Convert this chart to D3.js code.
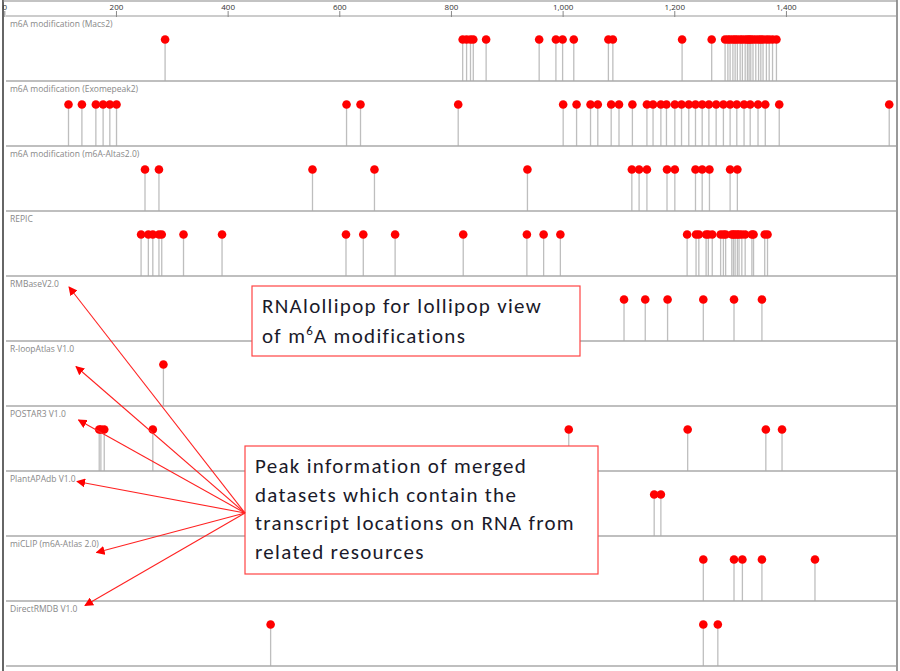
<!DOCTYPE html>
<html><head><meta charset="utf-8">
<script src="https://cdn.jsdelivr.net/npm/d3@7"></script>
<style>
html,body{margin:0;padding:0;background:#fff;}
svg{display:block;}
</style></head>
<body>
<svg id="chart" width="900" height="671"></svg>
<script>
// ---- DATA ----
const trackNames = [
  "m6A modification (Macs2)",
  "m6A modification (Exomepeak2)",
  "m6A modification (m6A-Altas2.0)",
  "REPIC",
  "RMBaseV2.0",
  "R-loopAtlas V1.0",
  "POSTAR3 V1.0",
  "PlantAPAdb V1.0",
  "miCLIP (m6A-Atlas 2.0)",
  "DirectRMDB V1.0"
];
const macs2 = [288,821,828,835,840,863,958,988,1000,1020,1082,1090,1214,1267,
  1291,1296,1300,1305,1309,1313,1318,1322,1327,1331,1334,1337,1341,1346,1351,1355,1359,1365,1370,1376,1383];
const exomepeak2 = [115,139,164,177,189,201,613,638,813,1001,1025,1050,1063,1087,1101,1125,1151,1162,1176,1186,
  1201,1213,1226,1238,1250,1262,1275,1288,1300,1312,1325,1336,1350,1363,1388,1585];
const atlas2 = [252,277,552,663,937,1124,1137,1151,1187,1201,1238,1250,1263,1300,1313];
const repic = [245,258,266,277,282,321,390,612,643,700,822,936,966,996,
  1223,1239,1244,1257,1261,1268,1283,1288,1292,1303,1306,1309,1313,1316,1321,1327,1339,1342,1362,1367];
const rmbase = [1110,1148,1188,1252,1307,1357];
const rloop = [285];
const postar3 = [170,173,179,266,1011,1224,1364,1393];
const plantapa = [1164,1176];
const miclip = [1252,1307,1322,1357,1452];
const directrmdb = [477,1252,1278];
const trackValues = [macs2, exomepeak2, atlas2, repic, rmbase, rloop, postar3, plantapa, miclip, directrmdb];
const tickValues = [0,200,400,600,800,1000,1200,1400];
const xDomain = [0,1600];

const note1Lines = ["RNAlollipop for lollipop view", "of m\u2076A modifications"];
const note2Lines = ["Peak information of merged", "datasets which contain the", "transcript locations on RNA from", "related resources"];

// ---- DRAW ----
const svg = d3.select("#chart");
const x = d3.scaleLinear().domain(xDomain).range([4.3, 897.6]);
const y = d3.scaleBand().domain(trackNames).range([16, 666]).padding(0);
const th = y.bandwidth();

// frame
svg.append("line").attr("x1",3).attr("x2",3).attr("y1",0).attr("y2",671).attr("stroke","#666").attr("stroke-width",2);
svg.append("line").attr("x1",897).attr("x2",897).attr("y1",0).attr("y2",671).attr("stroke","#777").attr("stroke-width",1.5);
svg.append("line").attr("x1",3).attr("x2",897).attr("y1",1).attr("y2",1).attr("stroke","#888").attr("stroke-width",1.2);

// top axis
const axis = svg.append("g").attr("transform","translate(0,16)")
  .call(d3.axisTop(x).tickValues(tickValues).tickSize(4).tickSizeOuter(0).tickFormat(d3.format(",")));
axis.select(".domain").attr("stroke","#999").attr("d","M6,0H896");
axis.selectAll(".tick line").attr("stroke","#888").attr("y2",-5).attr("y1",1);
axis.selectAll(".tick text").attr("font-family","Open Sans, sans-serif").attr("font-size",8).attr("fill","#333").attr("dy","0.1em");

// tracks
const g = svg.append("g");
trackNames.forEach((name,i)=>{
  const top = y(name);
  const base = top + th;
  const tg = g.append("g");
  tg.selectAll("line.stem").data(trackValues[i]).join("line")
    .attr("x1",d=>x(d)).attr("x2",d=>x(d))
    .attr("y1",top+23.5).attr("y2",base)
    .attr("stroke","#888").attr("stroke-opacity",0.55).attr("stroke-width",1.3);
  tg.selectAll("circle").data(trackValues[i]).join("circle")
    .attr("cx",d=>x(d)).attr("cy",top+23.5).attr("r",4.3).attr("fill","#ff0000");
  tg.append("line").attr("x1",6).attr("x2",896).attr("y1",base).attr("y2",base)
    .attr("stroke","#aaa").attr("stroke-width",1.5);
  tg.append("text").attr("x",10).attr("y",top+10.5).text(name)
    .attr("font-family","Open Sans, sans-serif").attr("font-size",8.5).attr("fill","#888");
});

// annotations
function noteBox(x0,y0,x1,y1,lines,tx,ty,lh){
  svg.append("rect").attr("x",x0).attr("y",y0).attr("width",x1-x0).attr("height",y1-y0)
    .attr("fill","#fff").attr("stroke","#f44").attr("stroke-width",1.2);
  const t = svg.append("text").attr("font-family","Carlito, Lato, sans-serif").attr("font-size",21)
    .attr("letter-spacing",1.3).attr("fill","#1a1a2a");
  lines.forEach((l,k)=>{
    if(l.includes("\u2076")){
      const parts = l.split("\u2076");
      t.append("tspan").attr("x",tx).attr("y",ty+k*lh).text(parts[0]);
      t.append("tspan").attr("dy",-8).attr("font-size",13).text("6");
      t.append("tspan").attr("dy",8).text(parts[1]);
    } else {
      t.append("tspan").attr("x",tx).attr("y",ty+k*lh).text(l);
    }
  });
}
noteBox(252,286,580,356,note1Lines,262,313,30);
noteBox(245,446,598,574,note2Lines,255,473,28.5);

// arrows
const defs = svg.append("defs");
defs.append("marker").attr("id","ah").attr("viewBox","0 0 10 10").attr("refX",9).attr("refY",5)
  .attr("markerWidth",9).attr("markerHeight",9).attr("markerUnits","userSpaceOnUse").attr("orient","auto")
  .append("path").attr("d","M0,0L10,5L0,10Z").attr("fill","#f00");
const arrowTips = [[69,287],[76,366.5],[78.5,420],[77,481.5],[96.5,552.5],[85,605.5]];
const origin = [245,513];
svg.selectAll("line.arrow").data(arrowTips).join("line").attr("class","arrow")
  .attr("x1",origin[0]).attr("y1",origin[1]).attr("x2",d=>d[0]).attr("y2",d=>d[1])
  .attr("stroke","#f22").attr("stroke-width",1.1).attr("marker-end","url(#ah)");
</script>
</body></html>
